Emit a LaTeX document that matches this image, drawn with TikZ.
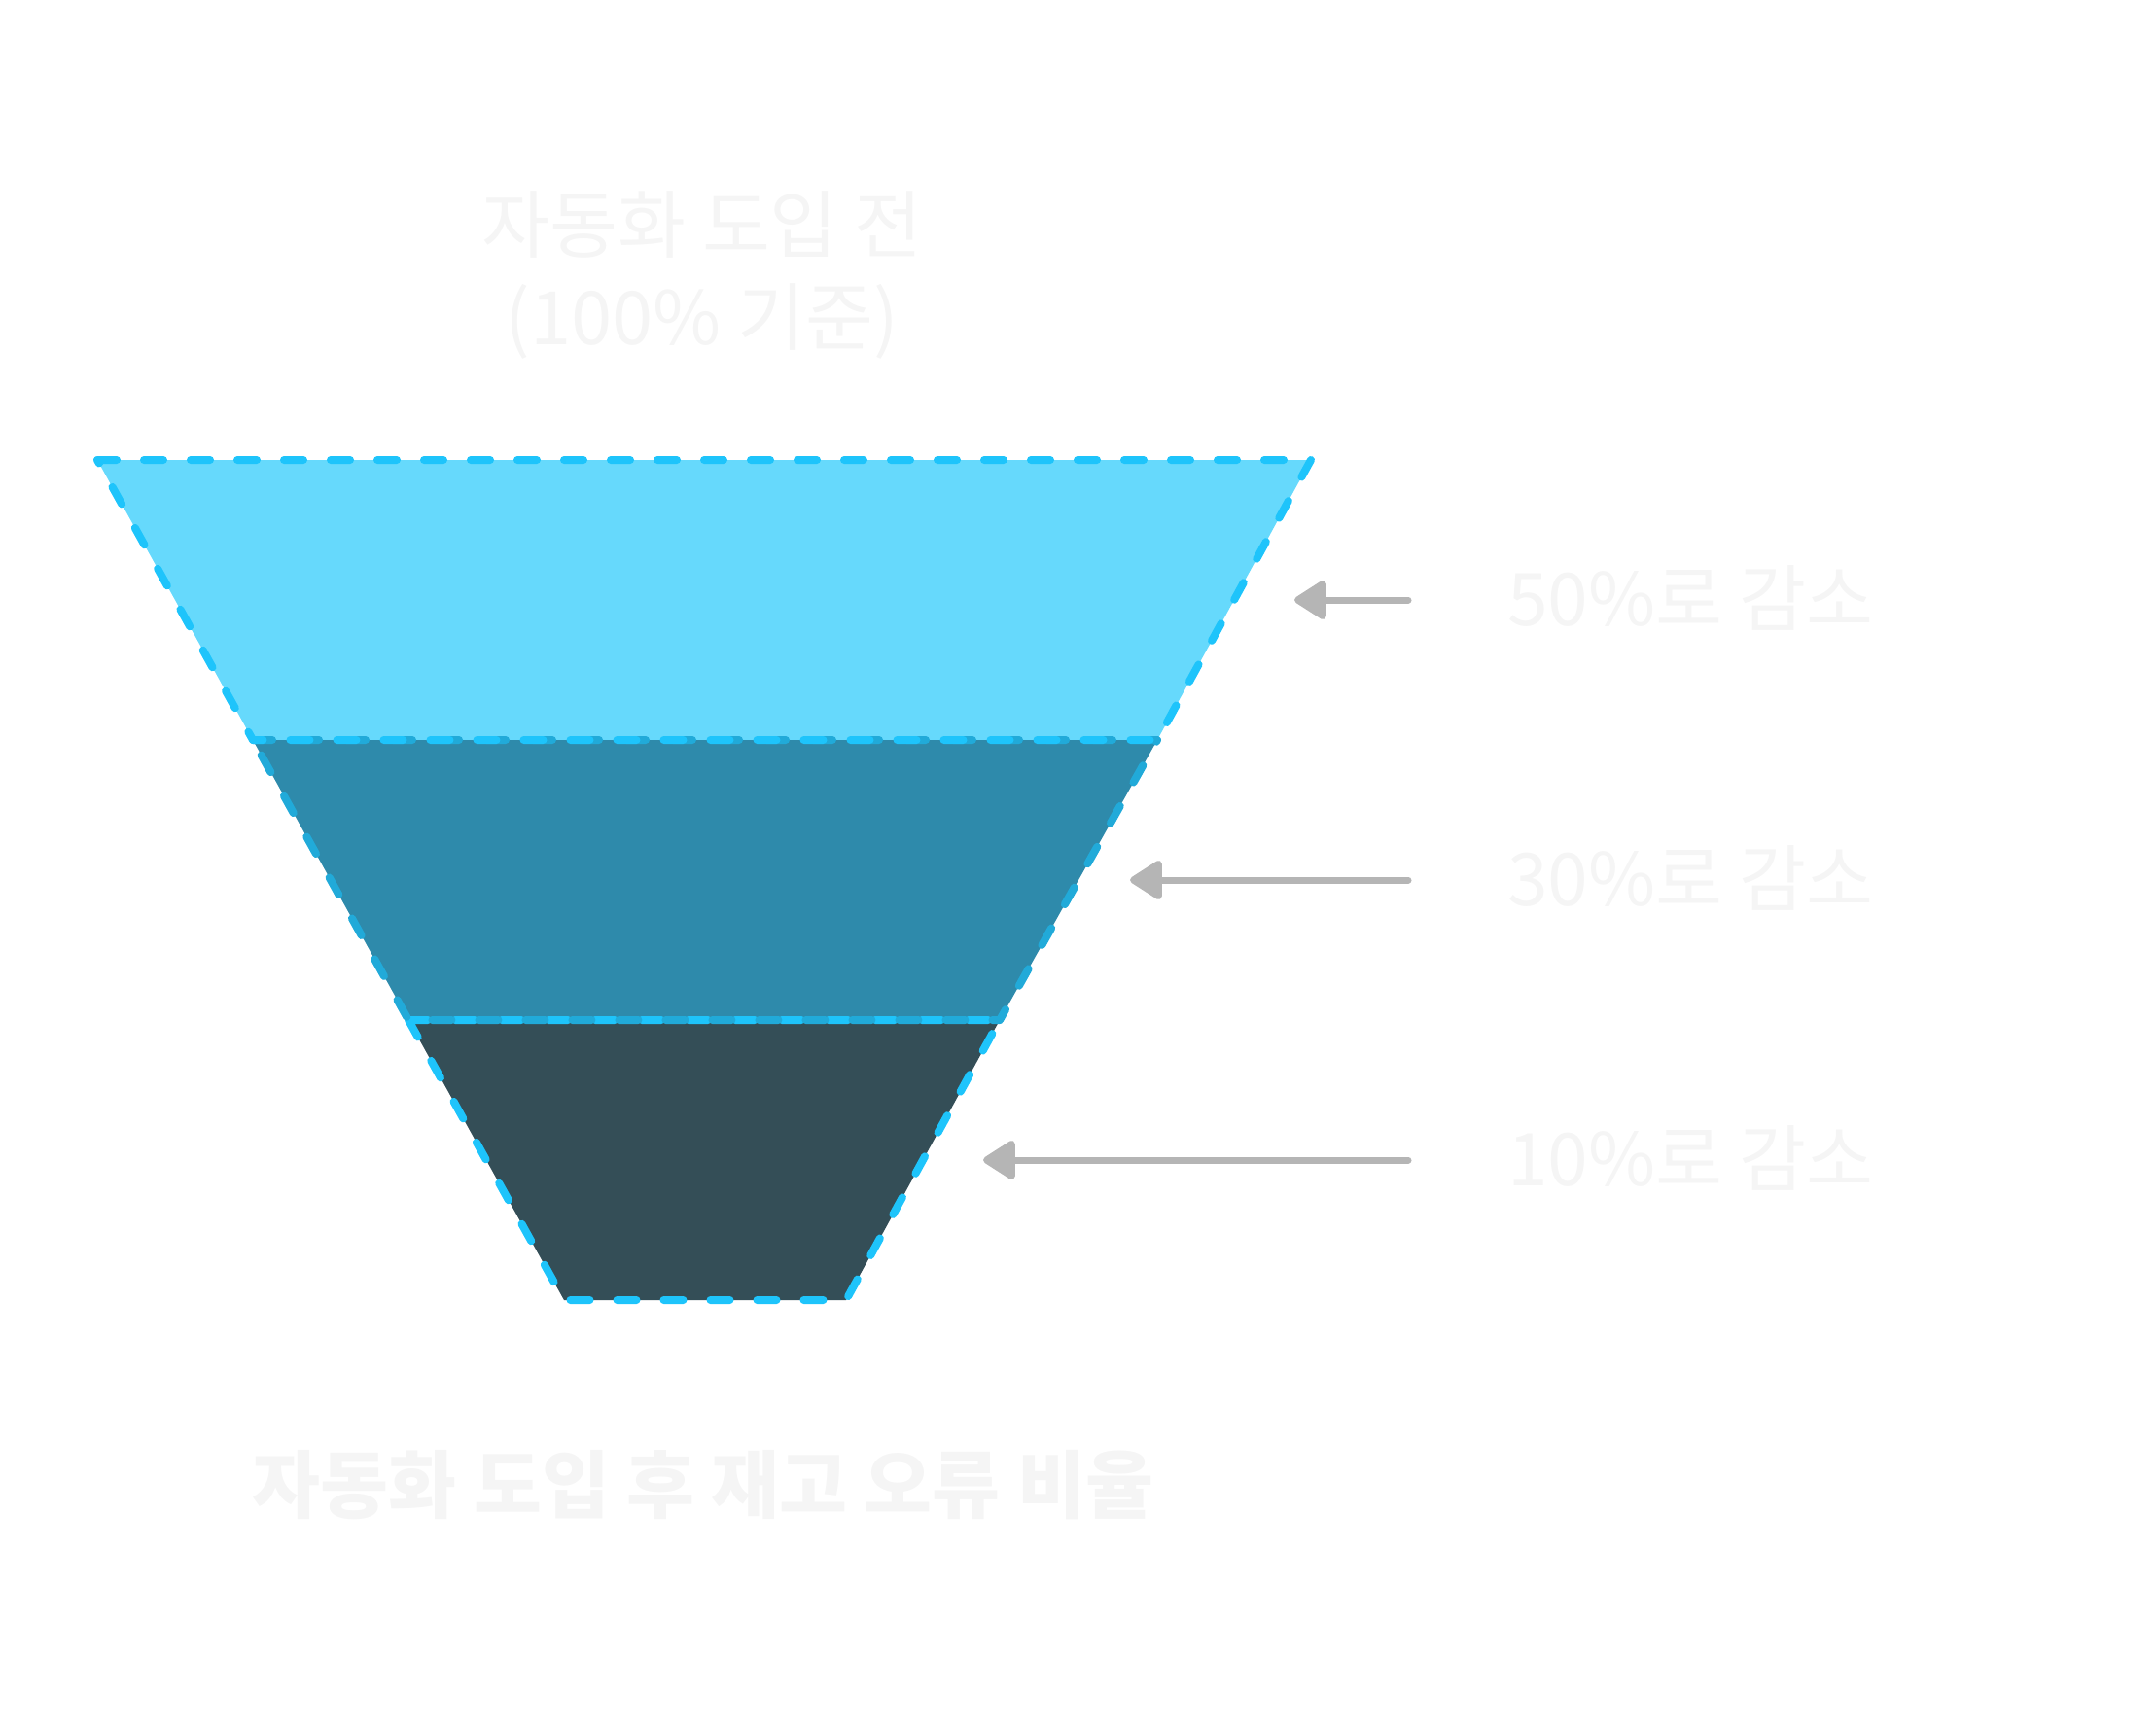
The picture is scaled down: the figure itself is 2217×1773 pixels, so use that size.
\documentclass[tikz,border=0pt]{standalone}
\usepackage{fontspec}
\setmainfont{Noto Sans CJK KR}
\usetikzlibrary{arrows.meta}
\definecolor{layA}{HTML}{66D9FC}
\definecolor{layB}{HTML}{2E8AAB}
\definecolor{layC}{HTML}{344E57}
\definecolor{dashA}{HTML}{1EC4FB}
\definecolor{dashB}{HTML}{21AAD9}
\definecolor{txt}{HTML}{F5F5F5}
\definecolor{arr}{HTML}{B5B5B5}
\begin{document}
\begin{tikzpicture}[x=1pt,y=-1pt,
  edge/.style={line width=8pt, line cap=round, line join=round, dash pattern=on 20pt off 28pt},
  pointer/.style={draw=arr, line width=7pt, line cap=round, -{Triangle[length=36pt,width=44pt,round]}},
  lbl/.style={text=txt, font=\fontsize{75}{86}\selectfont, anchor=west, inner sep=0pt},
  ttl/.style={text=txt, font=\fontsize{76}{95}\selectfont, align=center, inner sep=0pt}
]
\path[use as bounding box] (0,0) rectangle (2217,1773);
\coordinate (t1) at (100,473);
\coordinate (t2) at (1348,473);
\coordinate (m1) at (260,761);
\coordinate (m2) at (1190,761);
\coordinate (n1) at (420,1049);
\coordinate (n2) at (1028,1049);
\coordinate (b1) at (580,1337);
\coordinate (b2) at (870,1337);
\fill[layA] (t1)--(t2)--(m2)--(m1)--cycle;
\fill[layB] (m1)--(m2)--(n2)--(n1)--cycle;
\fill[layC] (n1)--(n2)--(b2)--(b1)--cycle;
\draw[edge,dashA] (n1)--(n2)--(b2)--(b1)--cycle;
\draw[edge,dashB] (m1)--(m2)--(n2)--(n1)--cycle;
\draw[edge,dashA] (t1)--(t2)--(m2)--(m1)--cycle;
\node[ttl] (title) at (722,283) {자동화 도입 전\\(100\% 기준)};
\node[ttl, font=\fontsize{76}{90}\selectfont\bfseries] (sub) at (723,1527) {자동화 도입 후 재고 오류 비율};
\node[lbl] (l1) at (1550,615) {50\%로 감소};
\node[lbl] (l2) at (1550,903) {30\%로 감소};
\node[lbl] (l3) at (1550,1191) {10\%로 감소};
\coordinate (a1s) at (1448,617);
\coordinate (a1e) at (1331,617);
\coordinate (a2s) at (1448,905);
\coordinate (a2e) at (1162,905);
\coordinate (a3s) at (1448,1193);
\coordinate (a3e) at (1011,1193);
\draw[pointer] (a1s) -- (a1e);
\draw[pointer] (a2s) -- (a2e);
\draw[pointer] (a3s) -- (a3e);
\end{tikzpicture}
\end{document}
